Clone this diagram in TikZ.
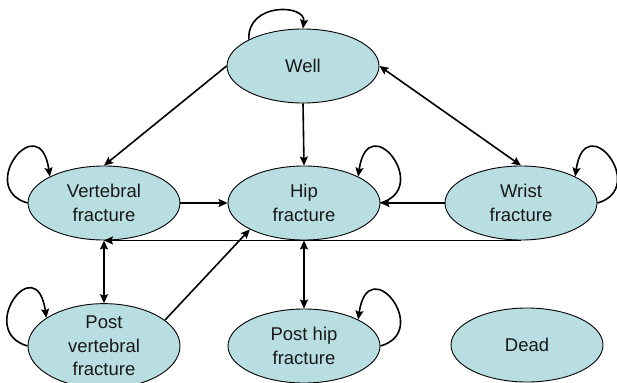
\documentclass[tikz,border=0pt]{standalone}
\usepackage{fontspec}
\setmainfont{Liberation Sans}
\usetikzlibrary{shapes.geometric,arrows.meta}
\definecolor{stfill}{RGB}{184,222,226}
\definecolor{sttext}{RGB}{25,25,25}
\tikzset{
  state/.style={ellipse, draw=black, line width=0.9pt, fill=stfill,
    minimum width=152pt, minimum height=74pt, inner sep=0pt,
    align=center, text=sttext, font=\fontsize{18.5}{23.5}\selectfont},
  conn/.style={line width=1.6pt, -{Stealth[length=9pt,width=8pt,inset=1.5pt]}},
  dconn/.style={line width=1.6pt, {Stealth[length=9pt,width=8pt,inset=1.5pt]}-{Stealth[length=9pt,width=8pt,inset=1.5pt]}}
}
\begin{document}
\begin{tikzpicture}[x=1pt,y=-1pt]
\useasboundingbox (0,0) rectangle (617,382);
\node[state] (well)  at (303,66)  {Well};
\node[state] (vert)  at (104,203) {Vertebral\\fracture};
\node[state] (hip)   at (304,203) {Hip\\fracture};
\node[state] (wrist) at (521,203) {Wrist\\fracture};
\node[state] (pvert) at (104,346) {Post\\vertebral\\fracture};
\node[state] (phip)  at (304,346) {Post hip\\fracture};
\node[state] (dead)  at (527,345) {Dead};

% transitions
\draw[conn] (well.west) -- (vert.north);
\draw[conn] (well.south) -- (hip.north);
\draw[dconn] (well.east) -- (wrist.north);
\draw[conn] (vert.east) -- (hip.west);
\draw[conn] (wrist.west) -- (hip.east);
\draw[conn] (wrist.south) -- (vert.south);
\draw[dconn] (vert.south) -- (pvert.north);
\draw[dconn] (hip.south) -- (phip.north);
\draw[conn] (pvert.23) -- (hip.206);

% self loops
\draw[conn] (well.154) .. controls (247,2) and (306,4) .. (well.north);
\draw[conn] (vert.west) .. controls +(-52,-15) and +(-10,-70) .. (vert.154);
\draw[conn] (pvert.west) .. controls +(-52,-15) and +(-10,-70) .. (pvert.154);
\draw[conn] (hip.east) .. controls +(52,-15) and +(10,-70) .. (hip.26);
\draw[conn] (wrist.east) .. controls +(52,-15) and +(10,-70) .. (wrist.26);
\draw[conn] (phip.east) .. controls +(52,-15) and +(10,-70) .. (phip.26);
\end{tikzpicture}
\end{document}
